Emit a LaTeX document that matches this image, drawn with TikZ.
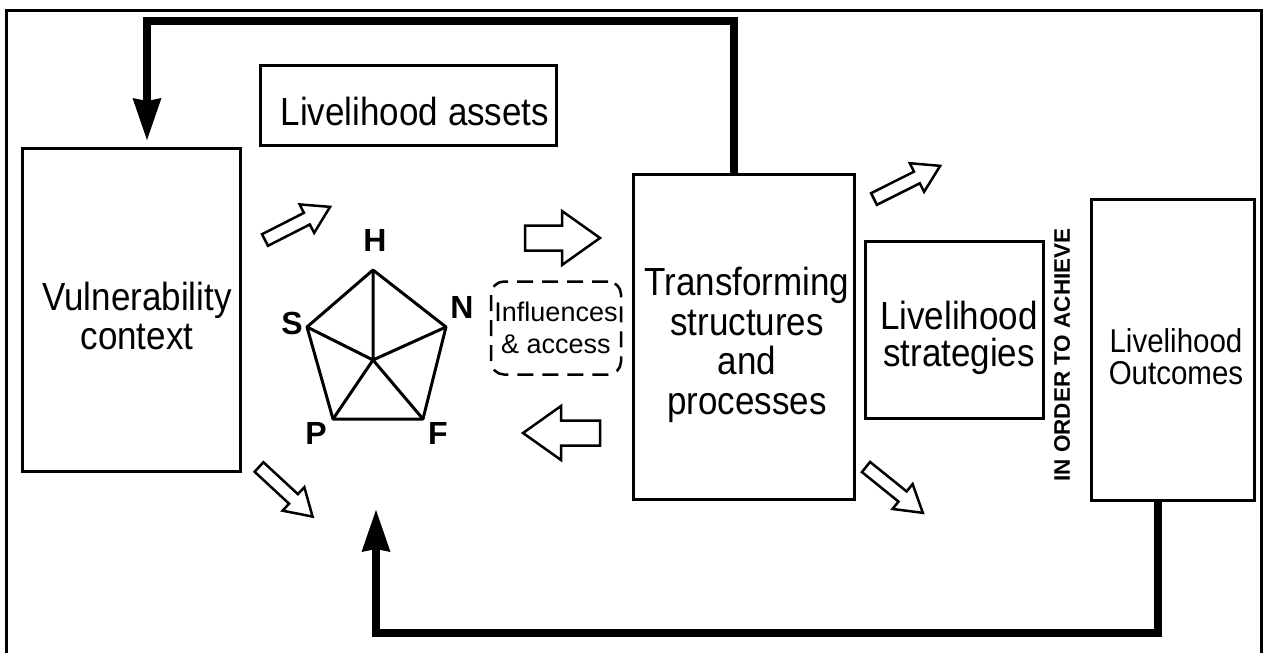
\documentclass[tikz,border=0pt]{standalone}
\usepackage{graphicx}
\usepackage{fontspec}
\setmainfont{Liberation Sans}
\usetikzlibrary{arrows.meta}
\newcommand\tallt[1]{\scalebox{1}[1.12]{#1}}
\newcommand\blkarrow[6]{\draw[blk,shift={#1},rotate=#2] (0,-#4) -- ({#3-#6},-#4) -- ({#3-#6},-#5) -- (#3,0) -- ({#3-#6},#5) -- ({#3-#6},#4) -- (0,#4) -- cycle;}
\begin{document}
\begin{tikzpicture}[x=1pt,y=-1pt,
  box/.style={draw, line width=3pt, inner sep=0pt, anchor=north west},
  bigtext/.style={inner sep=0pt, align=center, font=\fontsize{35}{39.5}\selectfont},
  lab/.style={inner sep=0pt, font=\bfseries\fontsize{32}{34}\selectfont},
  blk/.style={draw, line width=2.5pt, fill=white, line join=miter},
  pent/.style={line width=3pt, line join=round},
  fb/.style={line width=7.5pt, line join=miter, -{Stealth[length=42pt,width=29pt,inset=3pt,line width=0pt]}}]
\useasboundingbox (0,0) rectangle (1267,653);
% frame
\draw[line width=3pt] (6,653) -- (6,10) -- (1261,10) -- (1261,653);
% boxes
\node[box, minimum width=218pt, minimum height=323pt] (vuln) at (21,147) {};
\node[box, minimum width=296pt, minimum height=80pt] (assets) at (259,64) {};
\node[box, minimum width=221pt, minimum height=325pt] (trans) at (632,173) {};
\node[box, minimum width=178pt, minimum height=177pt] (strat) at (864,240) {};
\node[box, minimum width=163pt, minimum height=301pt] (outc) at (1090,198) {};
\node[draw, line width=2.5pt, dash pattern=on 16pt off 9pt, rounded corners=13pt,
  minimum width=130pt, minimum height=93pt, inner sep=0pt, align=center,
  font=\fontsize{27}{32}\selectfont] (infl) at (556,328) {Influences\\\& access};
% texts
\node[bigtext] (assetstxt) at (415,111) {\tallt{Livelihood assets}};
\node[bigtext] (vulntxt) at (137,316) {\tallt{Vulnerability}\\\tallt{context}};
\node[bigtext] (transtxt) at (747,345) {\tallt{Transforming}\\\tallt{structures}\\\tallt{and}\\\tallt{processes}};
\node[bigtext, font=\fontsize{35}{37}\selectfont] (strattxt) at (959,338) {\tallt{Livelihood}\\\tallt{strategies}};
\node[bigtext, font=\fontsize{29.5}{32}\selectfont] (outctxt) at (1176,357) {\tallt{Livelihood}\\\tallt{Outcomes}};
\node[inner sep=0pt, rotate=90, font=\bfseries\fontsize{22.5}{24}\selectfont] (order) at (1062,355) {IN ORDER TO ACHIEVE};
% pentagon
\coordinate (pH) at (373,270);
\coordinate (pN) at (446,327);
\coordinate (pF) at (423,419);
\coordinate (pP) at (333,419);
\coordinate (pS) at (307,327);
\coordinate (pO) at (373,360);
\draw[pent] (pH) -- (pN) -- (pF) -- (pP) -- (pS) -- cycle;
\draw[pent] (pO) -- (pH) (pO) -- (pN) (pO) -- (pF) (pO) -- (pP) (pO) -- (pS);
\node[lab] (lH) at (375,240) {H};
\node[lab] (lN) at (462,307) {N};
\node[lab] (lF) at (438,433) {F};
\node[lab] (lP) at (316,433) {P};
\node[lab] (lS) at (292,323) {S};
% block arrows
\blkarrow{(525,238)}{0}{75}{12.5}{27}{38}
\blkarrow{(600,433)}{180}{77}{12.5}{27}{38}
\blkarrow{(265,240)}{27}{73}{6.5}{16}{26}
\blkarrow{(874,199)}{26.6}{74}{6.5}{16}{26}
\blkarrow{(259,467)}{-42.8}{73}{6.5}{16}{26}
\blkarrow{(866,467)}{-38.9}{73}{6.5}{16}{26}
% feedback loops
\coordinate (t1) at (734,21);
\coordinate (t2) at (147,21);
\draw[fb, shorten >=7pt] (t1 |- trans.north) -- (t1) -- (t2) -- (t2 |- vuln.north);
\coordinate (b1) at (1158,633);
\coordinate (b2) at (376,633);
\coordinate (btip) at (376,510);
\draw[fb] (b1 |- outc.south) -- (b1) -- (b2) -- (btip);
\end{tikzpicture}
\end{document}
